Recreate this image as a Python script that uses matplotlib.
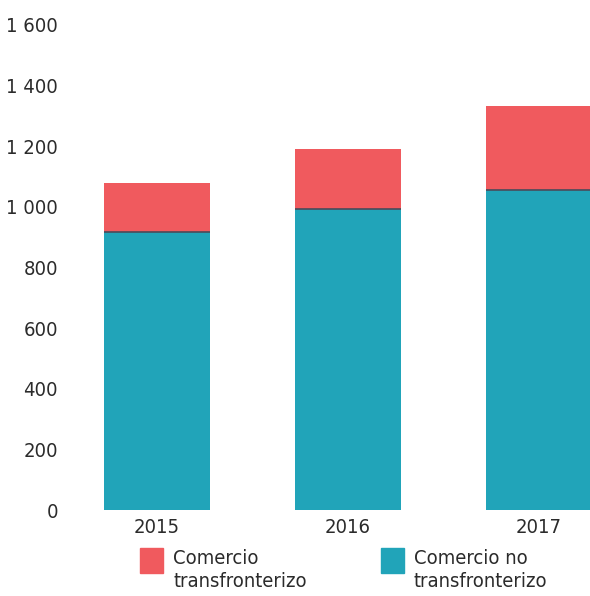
import numpy as np
import matplotlib
matplotlib.use("Agg")
import matplotlib.pyplot as plt
from matplotlib.patches import Rectangle
from matplotlib import font_manager

years = ["2015", "2016", "2017"]
no_transfronterizo = [917, 993, 1056]
transfronterizo = [162, 198, 277]
yticks = [0, 200, 400, 600, 800, 1000, 1200, 1400, 1600]
legend_labels = ["Comercio\ntransfronterizo", "Comercio no\ntransfronterizo"]

red = "#F05A5E"
teal = "#21A4B9"
txt = "#2b2b2b"

# look for a narrow sans face, else fall back to Roboto
narrow = [f for f in font_manager.fontManager.ttflist
          if f.style == "normal" and f.weight in (400, "normal", "regular")
          and (f.stretch in ("condensed", "semi-condensed", "extra-condensed")
               or "Condensed" in f.name or "Narrow" in f.name)]
narrow.sort(key=lambda f: ("Mono" in f.name, "Serif" in f.name))
if narrow:
    prop = font_manager.FontProperties(fname=narrow[0].fname)
else:
    prop = font_manager.FontProperties(family="Roboto")
fs = 14.5

fig = plt.figure(figsize=(5.90, 5.96), dpi=100)
W, H = 590, 596
ax = fig.add_axes([65 / W, (H - 510) / H, (590 - 65) / W, (510 - 25) / H])

x = np.arange(len(years))
width = 0.555
ax.bar(x, no_transfronterizo, width, color=teal, zorder=2)
ax.bar(x, transfronterizo, width, bottom=no_transfronterizo, color=red, zorder=2)
# thin dark seam between the two segments
ax.hlines(no_transfronterizo, x - width / 2, x + width / 2, color="#4a4a5a", lw=1.2, zorder=3)

ax.set_xlim(-0.482, 2.267)
ax.set_ylim(0, 1600)
ax.set_yticks(yticks)
ax.set_yticklabels([f"{v:,}".replace(",", " ") for v in yticks])
ax.set_xticks(x)
ax.set_xticklabels(years)
ax.tick_params(axis="both", length=0, colors=txt)
ax.tick_params(axis="y", pad=5)
ax.tick_params(axis="x", pad=6)
for lab in ax.get_xticklabels() + ax.get_yticklabels():
    lab.set_fontproperties(prop)
    lab.set_fontsize(fs)
for s in ax.spines.values():
    s.set_visible(False)

# legend: square swatch beside the first line of a two-line label
for left, color, label in zip([140, 381], [red, teal], legend_labels):
    fig.patches.append(Rectangle((left / W, 1 - 573 / H), 23 / W, 25 / H,
                                 transform=fig.transFigure, color=color))
    fig.text((left + 33) / W, 1 - 549 / H, label, ha="left", va="top",
             fontproperties=prop, fontsize=fs, color=txt, linespacing=1.25)

fig.savefig("out.png", dpi=100)
